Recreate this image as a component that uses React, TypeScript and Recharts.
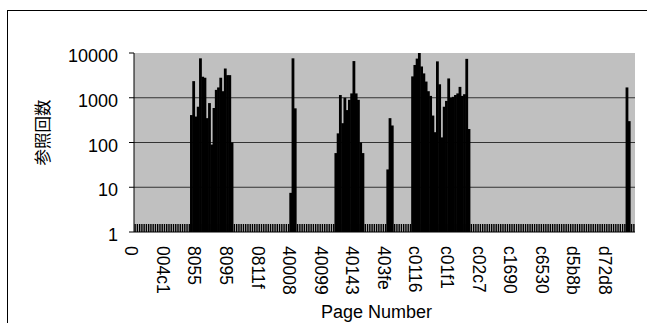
import React from "react";
import { BarChart, Bar, XAxis, YAxis, CartesianGrid } from "recharts";

// one label every 14 pages on the category axis
const tickLabels = [
  "0", "004c1", "8055", "8095", "0811f", "40008", "40099", "40143",
  "403fe", "c0116", "c01f1", "c02c7", "c1690", "c6530", "d5b8b", "d72d8",
];
const labelEvery = 14;
const yTicks = [1, 10, 100, 1000, 10000];

// reference counts per page, one row per labelled block of 14 pages
const counts: number[] = [
  // 0
  1, 1, 1, 1, 1, 1, 1, 1, 1, 1, 1, 1, 1, 1,
  // 004c1
  1, 1, 1, 1, 1, 1, 1, 1, 1, 1, 1, 410, 2350, 380,
  // 8055
  630, 7600, 2950, 2800, 350, 760, 90, 590, 1500, 1700, 2800, 1400, 4500, 3200,
  // 8095
  3200, 100, 1, 1, 1, 1, 1, 1, 1, 1, 1, 1, 1, 1,
  // 0811f
  1, 1, 1, 1, 1, 1, 1, 1, 1, 1, 1, 1, 1, 7.5,
  // 40008
  7600, 580, 1, 1, 1, 1, 1, 1, 1, 1, 1, 1, 1, 1,
  // 40099
  1, 1, 1, 1, 1, 58, 160, 1150, 270, 1000, 530, 900, 1250, 6600,
  // 40143
  1250, 900, 100, 58, 1, 1, 1, 1, 1, 1, 1, 1, 1, 1,
  // 403fe
  25, 350, 240, 1, 1, 1, 1, 1, 1, 1, 1, 3000, 5400, 7500,
  // c0116
  12000, 5000, 3500, 2300, 1400, 1100, 400, 170, 6500, 2000, 130, 630, 850, 2700,
  // c01f1
  1000, 1050, 1150, 1250, 1750, 1100, 1200, 7400, 200, 1, 1, 1, 1, 1,
  // c02c7
  1, 1, 1, 1, 1, 1, 1, 1, 1, 1, 1, 1, 1, 1,
  // c1690
  1, 1, 1, 1, 1, 1, 1, 1, 1, 1, 1, 1, 1, 1,
  // c6530
  1, 1, 1, 1, 1, 1, 1, 1, 1, 1, 1, 1, 1, 1,
  // d5b8b
  1, 1, 1, 1, 1, 1, 1, 1, 1, 1, 1, 1, 1, 1,
  // d72d8
  1, 1, 1, 1, 1, 1, 1, 1, 1700, 300, 1, 1,
];

const data = counts.map((count, i) => ({ i, count }));

const latin = "'Liberation Sans', Arial, sans-serif";

// recharts truncates the bar width to whole pixels, so pad each bar a little
// to close the hairline gaps between neighbouring pages
const SolidBar = (props: any) => {
  const { x, y, width, height } = props;
  if (!height || height <= 0) return null;
  return <rect x={x - 0.4} y={y} width={width + 0.8} height={height} fill="#000" />;
};

const XTick = (props: any) => {
  const { x, y, index } = props;
  const label = index % labelEvery === 0 ? tickLabels[index / labelEvery] : null;
  const tx = x - 4;
  const ty = y + 14;
  return (
    <g>
      <line x1={x} x2={x} y1={y - 8} y2={y} stroke="#000" strokeWidth={1.4} />
      {label && (
        <text
          x={tx}
          y={ty}
          transform={`rotate(90, ${tx}, ${ty})`}
          dominantBaseline="central"
          fontSize={17.5}
          fontFamily={latin}
          fill="#000"
        >
          {label}
        </text>
      )}
    </g>
  );
};

const YTick = (props: any) => {
  const { x, y, payload } = props;
  return (
    <text x={x} y={y + 9} textAnchor="end" fontSize={18} fontFamily={latin} fill="#000">
      {payload.value}
    </text>
  );
};

const YTitle = (props: any) => {
  const { viewBox } = props;
  const cx = 42;
  const cy = viewBox.y + viewBox.height / 2 - 10;
  return (
    <text
      x={cx}
      y={cy}
      transform={`rotate(-90, ${cx}, ${cy})`}
      textAnchor="middle"
      dominantBaseline="central"
      fontSize={16.5}
      fontFamily="'Noto Sans CJK JP', sans-serif"
      fill="#000"
    >
      参照回数
    </text>
  );
};

const XTitle = (props: any) => {
  const { viewBox } = props;
  const cx = viewBox.x + viewBox.width / 2 - 8;
  return (
    <text x={cx} y={318} textAnchor="middle" fontSize={18} fontFamily={latin} fill="#000">
      Page Number
    </text>
  );
};

export default function App() {
  return (
    <div
      style={{
        position: "absolute",
        left: 0,
        top: 0,
        width: 647,
        height: 323,
        overflow: "hidden",
        background: "#fff",
      }}
    >
      <div
        style={{
          position: "absolute",
          left: 7,
          top: 10,
          width: 700,
          height: 400,
          borderLeft: "1px solid #000",
          borderTop: "1px solid #000",
        }}
      />
      <div style={{ position: "absolute", left: 0, top: 0 }}>
        <BarChart
          width={647}
          height={323}
          data={data}
          margin={{ top: 53, right: 12, bottom: 0, left: 0 }}
          barCategoryGap={0}
        >
          <CartesianGrid
            xAxisId="bottom"
            yAxisId="left"
            vertical={false}
            horizontalValues={[10, 100, 1000]}
            fill="#C0C0C0"
            fillOpacity={1}
            stroke="#333"
          />
          <XAxis
            xAxisId="bottom"
            dataKey="i"
            height={91}
            interval={0}
            tickSize={0}
            tickMargin={0}
            tickLine={false}
            axisLine={{ stroke: "#000" }}
            tick={XTick}
            label={XTitle}
          />
          <XAxis
            xAxisId="top"
            orientation="top"
            dataKey="i"
            height={0}
            tick={false}
            tickLine={false}
            axisLine={{ stroke: "#808080", strokeWidth: 2 }}
          />
          <YAxis
            yAxisId="left"
            scale="log"
            domain={[1, 10000]}
            ticks={yTicks}
            interval={0}
            allowDataOverflow
            width={134}
            tickSize={5}
            tickMargin={11}
            axisLine={{ stroke: "#000" }}
            tickLine={{ stroke: "#000" }}
            tick={YTick}
            label={YTitle}
          />
          <YAxis
            yAxisId="right"
            orientation="right"
            scale="log"
            domain={[1, 10000]}
            allowDataOverflow
            width={0}
            tick={false}
            tickLine={false}
            axisLine={{ stroke: "#808080", strokeWidth: 2 }}
          />
          <Bar
            dataKey="count"
            xAxisId="bottom"
            yAxisId="left"
            fill="#000"
            shape={SolidBar}
            isAnimationActive={false}
          />
        </BarChart>
      </div>
    </div>
  );
}
